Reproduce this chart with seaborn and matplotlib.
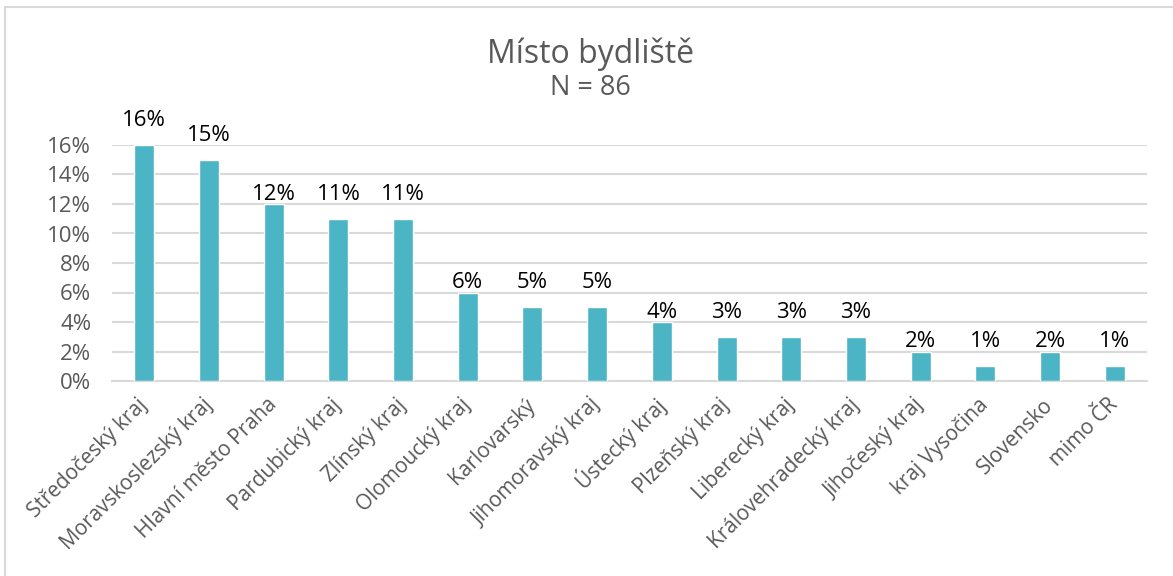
import matplotlib
matplotlib.use("Agg")
import matplotlib.pyplot as plt
import matplotlib.patches as mpatches
from matplotlib.ticker import FuncFormatter, MultipleLocator
import pandas as pd
import seaborn as sns

# Place of residence of respondents (share in %)
regions = [
    "Středočeský kraj", "Moravskoslezský kraj", "Hlavní město Praha",
    "Pardubický kraj", "Zlínský kraj", "Olomoucký kraj", "Karlovarský",
    "Jihomoravský kraj", "Ústecký kraj", "Plzeňský kraj", "Liberecký kraj",
    "Královehradecký kraj", "Jihočeský kraj", "kraj Vysočina", "Slovensko",
    "mimo ČR",
]
shares = [16, 15, 12, 11, 11, 6, 5, 5, 4, 3, 3, 3, 2, 1, 2, 1]
title = "Místo bydliště"
subtitle = "N = 86"

BAR = "#4BB5C5"
GRID = "#D9D9D9"
TEXT = "#595959"
FS = 16

sns.set_theme(style="white")
plt.rcParams["font.family"] = ["Open Sans", "DejaVu Sans"]

df = pd.DataFrame({"region": regions, "share": shares})

fig = plt.figure(figsize=(11.73, 5.76), dpi=100)
ax = fig.add_axes([112 / 1173, 1 - 381 / 576, (1147 - 112) / 1173, (381 - 145) / 576])

sns.barplot(data=df, x="region", y="share", color=BAR, width=0.31,
            saturation=1, ax=ax, zorder=3)

ax.set_xlim(-0.5, len(regions) - 0.5)
ax.set_ylim(0, 16)
ax.yaxis.set_major_locator(MultipleLocator(2))
ax.yaxis.set_major_formatter(FuncFormatter(lambda v, _: f"{v:.0f}%"))
ax.grid(axis="y", color=GRID, linewidth=1.5, zorder=0)
ax.grid(axis="x", visible=False)
for side in ("top", "right", "left"):
    ax.spines[side].set_visible(False)
ax.spines["bottom"].set_color(GRID)
ax.spines["bottom"].set_linewidth(1.5)
ax.set_xlabel("")
ax.set_ylabel("")
ax.tick_params(axis="y", length=0, pad=15, labelsize=FS, labelcolor=TEXT)
ax.tick_params(axis="x", length=0, pad=15, labelsize=15, labelcolor=TEXT)
plt.setp(ax.get_xticklabels(), rotation=45, ha="right", va="center",
         rotation_mode="anchor")

# Value labels; labels of odd values sit one step higher, as in the source layout
for i, v in enumerate(shares):
    lift = 0 if (v % 2 == 0 and v != max(shares)) else 1
    ax.annotate(f"{v}%", (i, v + lift), xytext=(0, 3), textcoords="offset points",
                ha="center", va="baseline", fontsize=FS, color="#000000",
                annotation_clip=False)

fig.text(0.503, 1 - 63 / 576, title, ha="center", va="baseline",
         fontsize=23, color=TEXT)
fig.text(0.503, 1 - 95 / 576, subtitle, ha="center", va="baseline",
         fontsize=19.5, color=TEXT)

# Chart frame
frame = mpatches.Rectangle((5 / 1173, -0.2), 1.2, 1.2 - 7 / 576,
                           transform=fig.transFigure, fill=False,
                           edgecolor=GRID, linewidth=1.5)
fig.patches.append(frame)

fig.savefig("out.png", dpi=100, facecolor="white")
